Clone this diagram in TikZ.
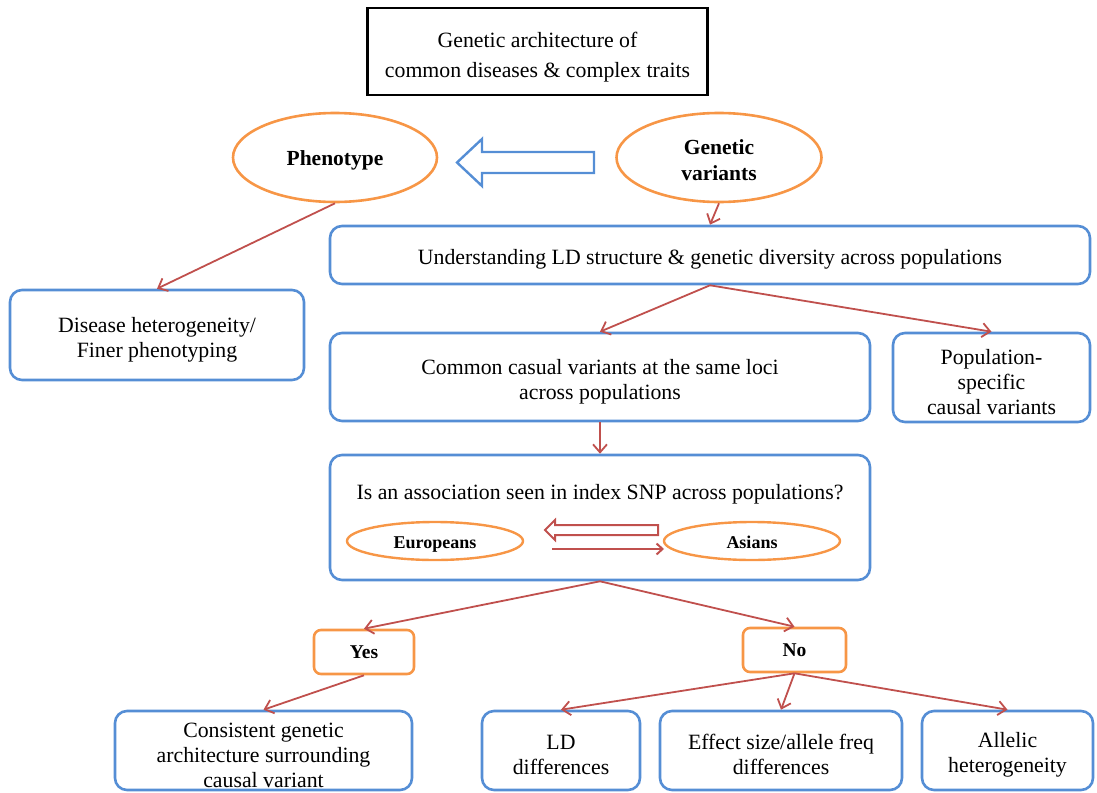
\documentclass[tikz,border=0pt]{standalone}
\usepackage{fontspec}
\setmainfont{Liberation Serif}
\usetikzlibrary{arrows.meta,shapes.geometric}
\definecolor{bbl}{HTML}{558ED5}
\definecolor{ror}{HTML}{F79646}
\definecolor{rrd}{HTML}{C0504D}
\newcommand\tdn[1][24pt]{\rule{0pt}{#1}}
\tikzset{
  bbox/.style={draw=bbl, line width=2.6pt, rounded corners=12pt, align=center, inner sep=2pt, font=\fontsize{21.8}{25}\selectfont},
  obox/.style={draw=ror, line width=2.6pt, rounded corners=7pt, align=center, inner sep=0pt, font=\fontsize{19.5}{22}\selectfont\bfseries},
  oell/.style={draw=ror, line width=2.6pt, ellipse, align=center, inner sep=0pt, font=\fontsize{21.5}{26}\selectfont\bfseries},
  sell/.style={draw=ror, line width=2.4pt, ellipse, inner sep=0pt, minimum width=176pt, minimum height=38pt, text depth=4pt, font=\fontsize{18}{20}\selectfont\bfseries},
  rarr/.style={draw=rrd, line width=1.8pt, -{Straight Barb[length=8pt,width=14pt]}},
}
\begin{document}
\begin{tikzpicture}[x=1pt,y=-1pt]
\useasboundingbox (0,0) rectangle (1097,792);
\node[draw=black, line width=2.6pt, minimum width=340pt, minimum height=87pt, align=center, font=\fontsize{21.8}{30}\selectfont] (title) at (537.5,51.5) {\tdn[26pt]Genetic architecture of\\common diseases \& complex traits};
\node[oell, minimum width=204pt, minimum height=89pt] (pheno) at (335,157.5) {\tdn[20pt]Phenotype};
\node[oell, minimum width=205pt, minimum height=89pt] (genvar) at (719,157.5) {\tdn[20pt]Genetic\\variants};
\draw[draw=bbl, line width=2.4pt, line join=miter] (594,152) -- (482,152) -- (482,139) -- (457,162.5) -- (482,186) -- (482,173) -- (594,173) -- cycle;
\node[bbox, minimum width=760pt, minimum height=58pt] (und) at (710,255) {\tdn Understanding LD structure \& genetic diversity across populations};
\node[bbox, minimum width=294pt, minimum height=90pt] (dis) at (157,335) {\tdn Disease heterogeneity/\\Finer phenotyping};
\node[bbox, minimum width=540pt, minimum height=88pt] (common) at (600,377) {\tdn Common casual variants at the same loci\\across populations};
\node[bbox, minimum width=197pt, minimum height=89pt] (pop) at (991.5,377.5) {\tdn Population-\\specific\\causal variants};
\node[bbox, minimum width=540pt, minimum height=125pt] (isbox) at (600,517.5) {};
\node[font=\fontsize{21.8}{25}\selectfont] (isq) at (600,494) {Is an association seen in index SNP across populations?};
\node[sell] (eur) at (435,541) {\tdn[19pt]Europeans};
\node[sell] (asi) at (752,541) {\tdn[19pt]Asians};
\draw[draw=rrd, line width=2pt, line join=miter] (658,525) -- (555,525) -- (555,520) -- (545,530) -- (555,540) -- (555,535) -- (658,535) -- cycle;
\coordinate (ta) at (552,549);
\coordinate (tb) at (664,549);
\draw[draw=rrd, line width=2pt, -{Straight Barb[length=6pt,width=11pt]}] (ta) -- (tb);
\node[obox, minimum width=100pt, minimum height=44pt] (yes) at (364,652) {Yes};
\node[obox, minimum width=103pt, minimum height=44pt] (no) at (794.5,650) {No};
\node[bbox, minimum width=297pt, minimum height=79pt] (cons) at (263.5,750.5) {\tdn Consistent genetic\\architecture surrounding\\causal variant};
\node[bbox, minimum width=158pt, minimum height=79pt] (ld) at (561,750.5) {\tdn LD\\differences};
\node[bbox, minimum width=242pt, minimum height=79pt] (eff) at (781,750.5) {\tdn Effect size/allele freq\\differences};
\node[bbox, minimum width=171pt, minimum height=79pt] (all) at (1007.5,750.5) {\tdn Allelic\\heterogeneity};
\draw[rarr] (genvar.south) -- (und.north);
\draw[rarr] (pheno.south) -- (dis.north);
\draw[rarr] (und.south) -- (common.north);
\draw[rarr] (und.south) -- (pop.north);
\draw[rarr] (common.south) -- (isbox.north);
\draw[rarr] (isbox.south) -- (yes.north);
\draw[rarr] (isbox.south) -- (no.north);
\draw[rarr] (yes.south) -- (cons.north);
\draw[rarr] (no.south) -- (ld.north);
\draw[rarr] (no.south) -- (eff.north);
\draw[rarr] (no.south) -- (all.north);
\end{tikzpicture}
\end{document}
